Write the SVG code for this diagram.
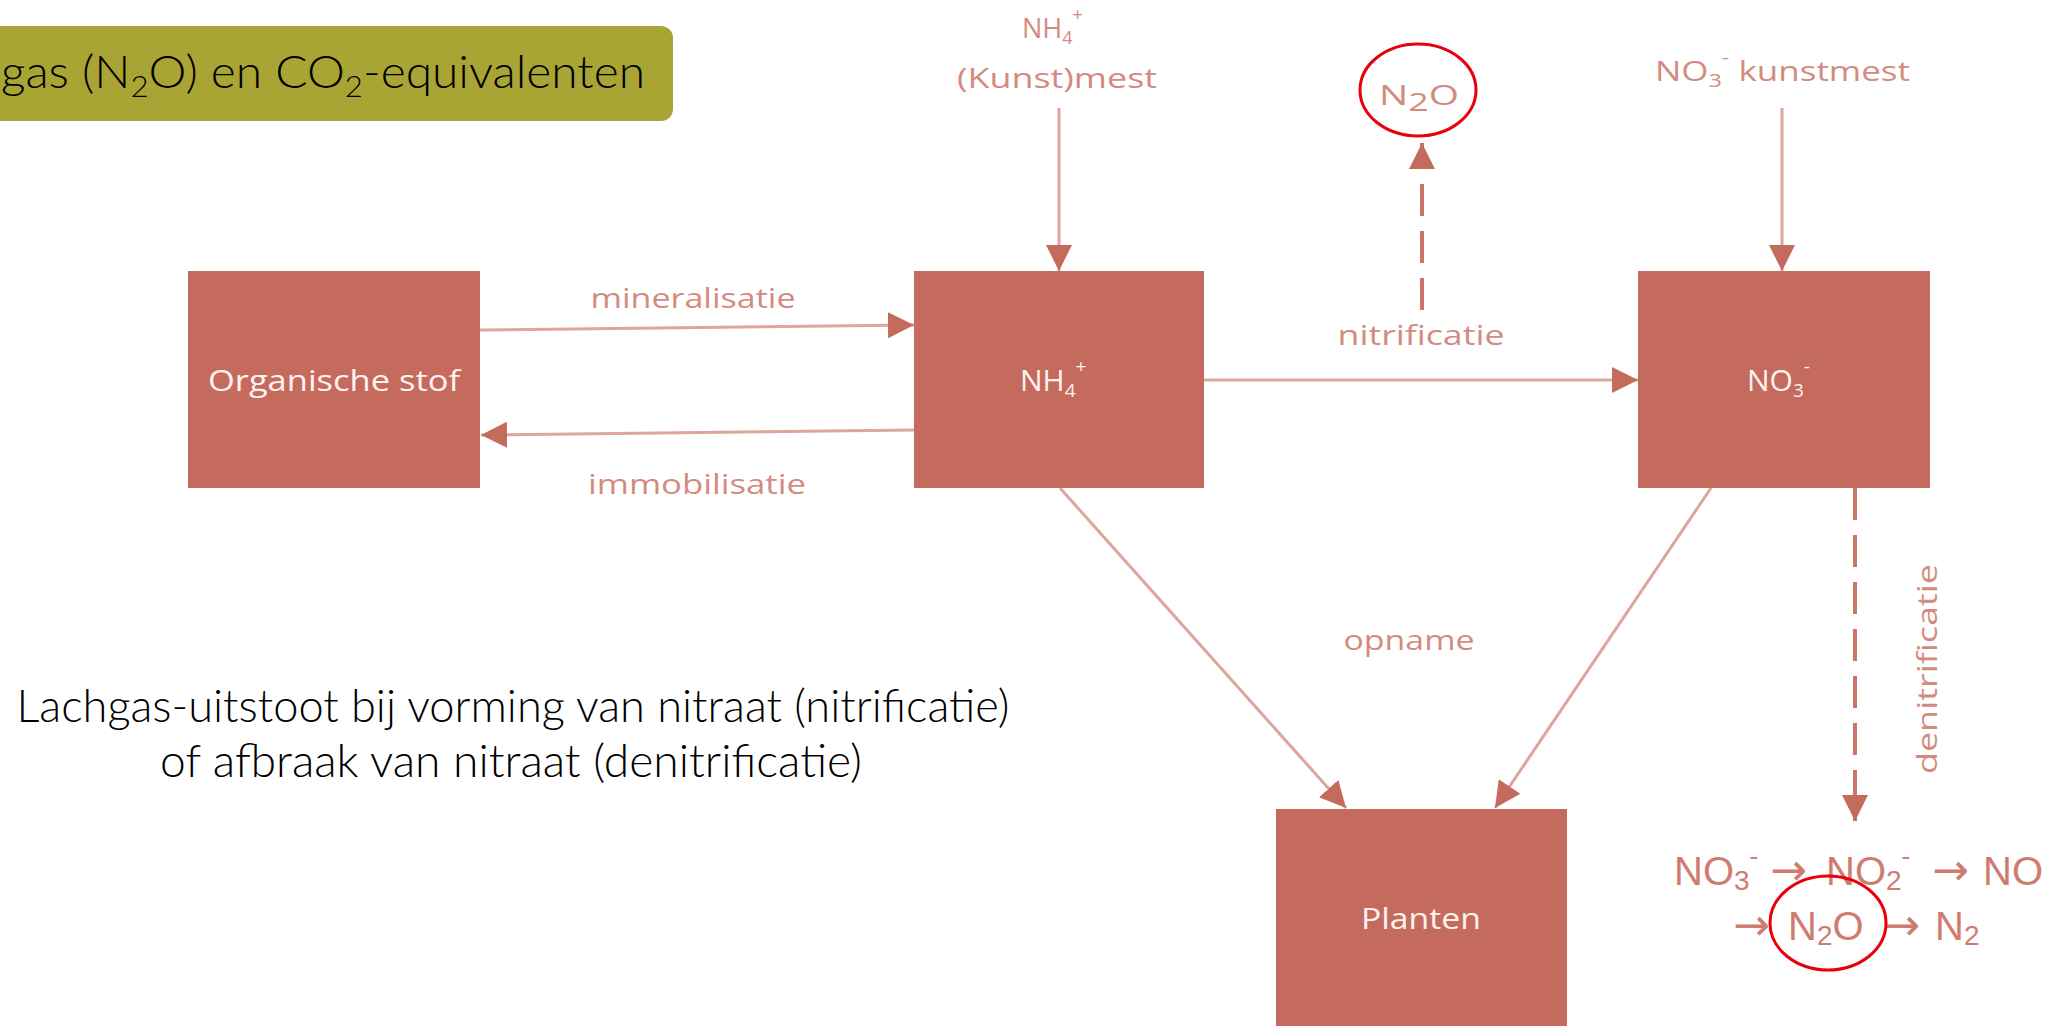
<svg xmlns="http://www.w3.org/2000/svg" width="2056" height="1026" viewBox="0 0 2056 1026">
<defs>
<style>
.box{fill:#C56B5E}
.boxtxt{font-family:"Open Sans","Liberation Sans",sans-serif;font-size:30px;fill:#FFF2EE;text-anchor:middle}
.lbl{font-family:"Open Sans","Liberation Sans",sans-serif;font-size:27px;fill:#D48B7F;text-anchor:middle}
.st{text-anchor:start}
.ln{stroke:#DDA59B;stroke-width:3;fill:none}
.dash{stroke:#C97568;stroke-width:4;stroke-dasharray:32 15;fill:none}
.hl{fill:none;stroke:#E8000B;stroke-width:3}
.eq{font-family:"Liberation Sans",Arial,sans-serif;font-size:40px;fill:#CF7C70}
.arr{font-family:"DejaVu Sans",sans-serif;font-size:44px}
.title{font-family:Lato,"Open Sans",sans-serif;font-weight:300;font-size:46px;fill:#000}
</style>
<marker id="ah" viewBox="0 0 26 26" refX="26" refY="13" markerWidth="26" markerHeight="26" markerUnits="userSpaceOnUse" orient="auto">
<path d="M0,0 L26,13 L0,26 z" fill="#C56B5E"/>
</marker>
</defs>
<rect width="2056" height="1026" fill="#FFFFFF"/>

<g id="title">
<rect x="-20" y="26" width="693" height="95" rx="12" fill="#A9A535"/>
<text class="title" x="1" y="88" textLength="644" lengthAdjust="spacingAndGlyphs">gas (N<tspan font-size="30" dy="9">2</tspan><tspan dy="-9">O) en CO</tspan><tspan font-size="30" dy="9">2</tspan><tspan dy="-9">-equivalenten</tspan></text>
</g>

<g id="caption">
<text class="title" x="513" y="722" text-anchor="middle" textLength="993" lengthAdjust="spacingAndGlyphs">Lachgas-uitstoot bij vorming van nitraat (nitrificatie)</text>
<text class="title" x="511" y="777" text-anchor="middle" textLength="702" lengthAdjust="spacingAndGlyphs">of afbraak van nitraat (denitrificatie)</text>
</g>

<g id="connectors">
<line class="ln" x1="480" y1="330" x2="914" y2="325" marker-end="url(#ah)"/>
<line class="ln" x1="914" y1="430" x2="481" y2="435" marker-end="url(#ah)"/>
<line class="ln" x1="1059" y1="108" x2="1059" y2="271" marker-end="url(#ah)"/>
<line class="ln" x1="1782" y1="108" x2="1782" y2="271" marker-end="url(#ah)"/>
<line class="ln" x1="1204" y1="380" x2="1638" y2="380" marker-end="url(#ah)"/>
<line class="ln" x1="1060" y1="488" x2="1346" y2="808" marker-end="url(#ah)"/>
<line class="ln" x1="1711" y1="488" x2="1495" y2="808" marker-end="url(#ah)"/>
<line class="dash" x1="1422" y1="310" x2="1422" y2="143" marker-end="url(#ah)"/>
<line class="dash" x1="1855" y1="488" x2="1855" y2="821" marker-end="url(#ah)"/>
</g>

<g id="labels">
<text class="lbl" x="693" y="308" textLength="205" lengthAdjust="spacingAndGlyphs">mineralisatie</text>
<text class="lbl" x="697" y="494" textLength="218" lengthAdjust="spacingAndGlyphs">immobilisatie</text>
<text class="lbl" x="1421" y="345" textLength="167" lengthAdjust="spacingAndGlyphs">nitrificatie</text>
<text class="lbl" x="1409" y="650" textLength="131" lengthAdjust="spacingAndGlyphs">opname</text>
<text class="lbl" transform="translate(1937,669) rotate(-90)" x="0" y="0" textLength="210" lengthAdjust="spacingAndGlyphs">denitrificatie</text>
</g>

<g id="input-nh4">
<text class="lbl st" x="1022" y="38">NH<tspan font-size="18" dy="6">4</tspan><tspan font-size="18" dy="-23">+</tspan></text>
<text class="lbl" x="1057" y="88" textLength="200" lengthAdjust="spacingAndGlyphs">(Kunst)mest</text>
</g>

<g id="n2o-top">
<ellipse class="hl" cx="1418" cy="90" rx="58" ry="46"/>
<text class="lbl" x="1419" y="105" font-size="38" textLength="80" lengthAdjust="spacingAndGlyphs">N<tspan font-size="25" dy="6">2</tspan><tspan dy="-6">O</tspan></text>
</g>

<g id="input-no3">
<text class="lbl st" x="1655" y="81" textLength="255" lengthAdjust="spacingAndGlyphs">NO<tspan font-size="18" dy="6">3</tspan><tspan font-size="18" dy="-23">-</tspan><tspan dy="17"> kunstmest</tspan></text>
</g>

<g id="node-organische-stof">
<rect class="box" x="188" y="271" width="292" height="217"/>
<text class="boxtxt" x="334" y="391" textLength="252" lengthAdjust="spacingAndGlyphs">Organische stof</text>
</g>

<g id="node-nh4">
<rect class="box" x="914" y="271" width="290" height="217"/>
<text class="boxtxt st" x="1020" y="391">NH<tspan font-size="19" dy="6">4</tspan><tspan font-size="19" dy="-24">+</tspan></text>
</g>

<g id="node-no3">
<rect class="box" x="1638" y="271" width="292" height="217"/>
<text class="boxtxt st" x="1747" y="391">NO<tspan font-size="19" dy="6">3</tspan><tspan font-size="19" dy="-24">-</tspan></text>
</g>

<g id="node-planten">
<rect class="box" x="1276" y="809" width="291" height="217"/>
<text class="boxtxt" x="1421" y="929" textLength="120" lengthAdjust="spacingAndGlyphs">Planten</text>
</g>

<g id="denitrification-chain">
<text class="eq"><tspan x="1674" y="885">NO</tspan><tspan font-size="28" dy="5">3</tspan><tspan font-size="26" dy="-25">-</tspan><tspan class="arr" x="1770" dy="20">→</tspan><tspan x="1826">NO</tspan><tspan font-size="28" dy="5">2</tspan><tspan font-size="26" dy="-25">-</tspan><tspan class="arr" x="1932" dy="20">→</tspan><tspan x="1983">NO</tspan><tspan class="arr" x="1733" y="940">→</tspan><tspan x="1788">N</tspan><tspan font-size="28" dy="5">2</tspan><tspan dy="-5">O</tspan><tspan class="arr" x="1883">→</tspan><tspan x="1935">N</tspan><tspan font-size="28" dy="5">2</tspan></text>
<ellipse class="hl" cx="1828" cy="923" rx="58" ry="47"/>
</g>
</svg>
